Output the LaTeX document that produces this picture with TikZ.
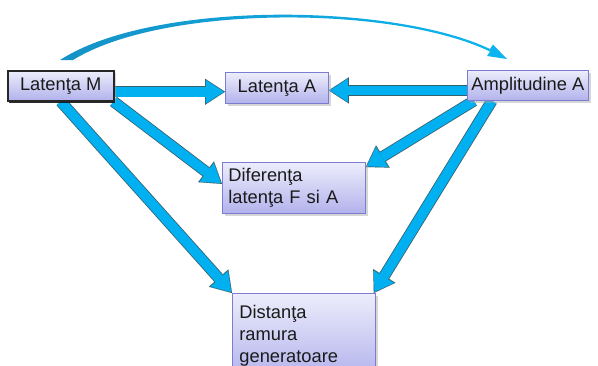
\documentclass[tikz,border=0pt]{standalone}
\usepackage{fontspec}
\setmainfont{Liberation Sans}
\usetikzlibrary{arrows.meta,shadows,backgrounds}
\definecolor{arrowfill}{HTML}{00B0F0}
\definecolor{arrowedge}{HTML}{35606E}
\definecolor{boxtop}{HTML}{EDEDFC}
\definecolor{boxbot}{HTML}{B2B2EC}
\definecolor{boxline}{HTML}{7C7CD0}
\definecolor{txt}{HTML}{1A1A1A}
\definecolor{curveL}{HTML}{1592C6}
\definecolor{curveM}{HTML}{98AEB4}
\definecolor{curveR}{HTML}{0CB6F0}
\tikzset{
  box/.style={draw=boxline, line width=0.8pt, top color=boxtop, bottom color=boxbot,
    text=txt, font=\fontsize{18.3}{22}\selectfont, anchor=north west, inner sep=0pt,
    drop shadow={shadow xshift=2.5pt, shadow yshift=-2.5pt, fill=gray!70, opacity=.45}},
  mainbox/.style={box, draw=black!85, line width=1.5pt,
    drop shadow={shadow xshift=1.5pt, shadow yshift=-1.8pt, fill=black, opacity=.8}},
  multibox/.style={box, align=left},
  arrowout/.style={draw=arrowedge, line width=11.4pt,
    -{Triangle[length=20pt,width=26pt,line width=0.01pt]}},
  arrowin/.style={draw=arrowfill, line width=9.8pt, shorten >=1.3pt,
    -{Triangle[length=17.8pt,width=23.4pt,line width=0.01pt]}},
}
\newcommand\blkarr[2]{\draw[arrowout] #1 -- #2; \draw[arrowin] #1 -- #2;}
\begin{document}
\begin{tikzpicture}[x=1pt,y=-1pt]
\path[use as bounding box] (0,0) rectangle (598,365);
\clip (0,0) rectangle (598,365);

\node[mainbox, minimum width=106pt, minimum height=30pt] (LM) at (7,70) {Latenţa M};
\node[box, minimum width=103pt, minimum height=31pt] (LA) at (225,72) {Latenţa A};
\node[box, minimum width=121pt, minimum height=30pt] (AA) at (467,70) {Amplitudine A};
\node[multibox, minimum width=143pt, minimum height=51pt, text width=131pt, inner xsep=6pt] (DF) at (222,162) {Diferenţa\\latenţa F si A};
\node[multibox, minimum width=143pt, minimum height=85pt, text width=129pt, inner xsep=7pt] (DR) at (232,293) {Distanţa\\ramura\\generatoare};

\coordinate (s1) at ([yshift=-6pt]LM.east);
\coordinate (s2) at ([yshift=-5pt]AA.west);
\begin{pgfonlayer}{background}
\fill[white] (0,0) rectangle (598,365);
\blkarr{(s1)}{(s1 -| LA.west)}
\blkarr{(s2)}{(s2 -| LA.east)}
\blkarr{([xshift=-1pt]LM.south east)}{([yshift=4pt]DF.west)}
\blkarr{(LM.south)}{(DR.north west)}
\blkarr{([xshift=-54pt]AA.south)}{([yshift=-5pt]DF.north east)}
\blkarr{([xshift=-36pt]AA.south)}{([xshift=-2pt]DR.north east)}
\end{pgfonlayer}

\shade[left color=curveL, middle color=curveM, right color=curveR]
  (60,60) .. controls (153,0) and (393,3) .. (490,49) -- (493,44.5) -- (507,59)
  -- (487,56) -- (490,51.5) .. controls (393,5) and (163,4.5) .. (73,60) -- cycle;
\end{tikzpicture}
\end{document}
